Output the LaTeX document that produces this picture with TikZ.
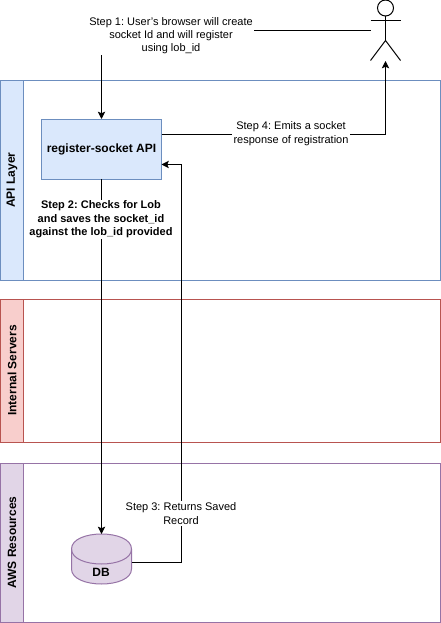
\documentclass[tikz,border=0pt]{standalone}
\usepackage{fontspec}
\setmainfont{Liberation Sans}
\usetikzlibrary{arrows.meta,calc}
\frenchspacing
\definecolor{bluef}{HTML}{DAE8FC}\definecolor{blues}{HTML}{6C8EBF}
\definecolor{redf}{HTML}{F8CECC}\definecolor{reds}{HTML}{B85450}
\definecolor{purf}{HTML}{E1D5E7}\definecolor{purs}{HTML}{9673A6}
\tikzset{
  lane/.style={draw=#1, line width=0.75pt, fill=white},
  lanehead/.style n args={2}{draw=#1, fill=#2, line width=0.75pt},
  lanetitle/.style={rotate=90, font=\fontsize{9}{11}\selectfont\bfseries, inner sep=0pt},
  boxlabel/.style={font=\fontsize{9}{11}\selectfont\bfseries, inner sep=0pt},
  steplabel/.style={fill=white, align=center, inner xsep=1pt, inner ysep=1pt, font=\fontsize{8.25}{#1}\selectfont},
  steplabel/.default=10,
  link/.style={draw=black, line width=0.75pt},
  linkarrow/.style={link, -{Stealth[length=5.5pt,width=5.5pt,inset=1.2pt]}},
  actorline/.style={draw=black, line width=0.75pt},
}
\begin{document}
\begin{tikzpicture}[x=0.75pt,y=-0.75pt]
\useasboundingbox (0,0) rectangle (441,623);
% swimlanes
\draw[lane=blues] (0.5,80.5) rectangle (440.5,280.5);
\draw[lanehead={blues}{bluef}] (0.5,80.5) rectangle (23.5,280.5);
\node[lanetitle] (apilane) at (12,180) {API Layer};
\draw[lane=reds] (0.5,299.5) rectangle (440.5,442.5);
\draw[lanehead={reds}{redf}] (0.5,299.5) rectangle (23.5,442.5);
\node[lanetitle] (intlane) at (12,370.5) {Internal Servers};
\draw[lane=purs] (0.5,463.5) rectangle (440.5,622.5);
\draw[lanehead={purs}{purf}] (0.5,463.5) rectangle (23.5,622.5);
\node[lanetitle] (awslane) at (12,542.5) {AWS Resources};
% API box
\node[draw=blues, fill=bluef, line width=0.75pt, minimum width=90pt, minimum height=45pt, inner sep=0pt, boxlabel] (api) at (101.5,149.2) {register-socket API};
% DB cylinder
\coordinate (dbtop) at (101.5,534);
\coordinate (dbright) at (131.5,562);
\draw[draw=purs, fill=purf, line width=0.75pt] (71.5,549)
  .. controls (71.5,529) and (131.5,529) .. (131.5,549) -- (131.5,569)
  .. controls (131.5,589) and (71.5,589) .. (71.5,569) -- cycle;
\draw[draw=purs, line width=0.75pt] (71.5,549) .. controls (71.5,569) and (131.5,569) .. (131.5,549);
\node[boxlabel] (db) at (101,572) {DB};
% actor
\coordinate (acthead) at (385.5,8);
\draw[actorline] (acthead) circle [radius=8];
\draw[actorline] (385.5,16) -- (385.5,40);
\draw[actorline] (370.5,20.5) -- (400.5,20.5);
\draw[actorline] (370.5,60.5) -- (385.5,40.5) -- (400.5,60.5);
\coordinate (actleft) at (370.5,30.5);
\coordinate (actfoot) at (385.5,61);
% connectors
\coordinate (apitop) at (101.5,119);
\coordinate (apibottom) at (101.5,179);
\coordinate (apir1) at (161.5,134.5);
\coordinate (apir2) at (161.5,164.5);
\draw[linkarrow] (actleft) -- (apitop |- actleft) -- (apitop);
\draw[linkarrow] (apibottom) -- (dbtop);
\draw[linkarrow] (dbright) -- (181.5,562) -- (181.5,164.5) -- (apir2);
\draw[linkarrow] (apir1) -- (actfoot |- apir1) -- (actfoot);
% labels
\node[steplabel] (s1) at (171,35.5) {Step 1: User's browser will create\\socket Id and will register\\using lob\_id};
\node[steplabel, font=\fontsize{8.25}{10}\selectfont\bfseries] (s2) at (101,219.5) {Step 2: Checks for Lob\\and saves the socket\_id\\against the lob\_id provided};
\node[steplabel=10.5] (s3) at (181,513.5) {Step 3: Returns Saved\\Record};
\node[steplabel=10.5] (s4) at (291,133.5) {Step 4: Emits a socket\\response of registration};
\end{tikzpicture}
\end{document}
